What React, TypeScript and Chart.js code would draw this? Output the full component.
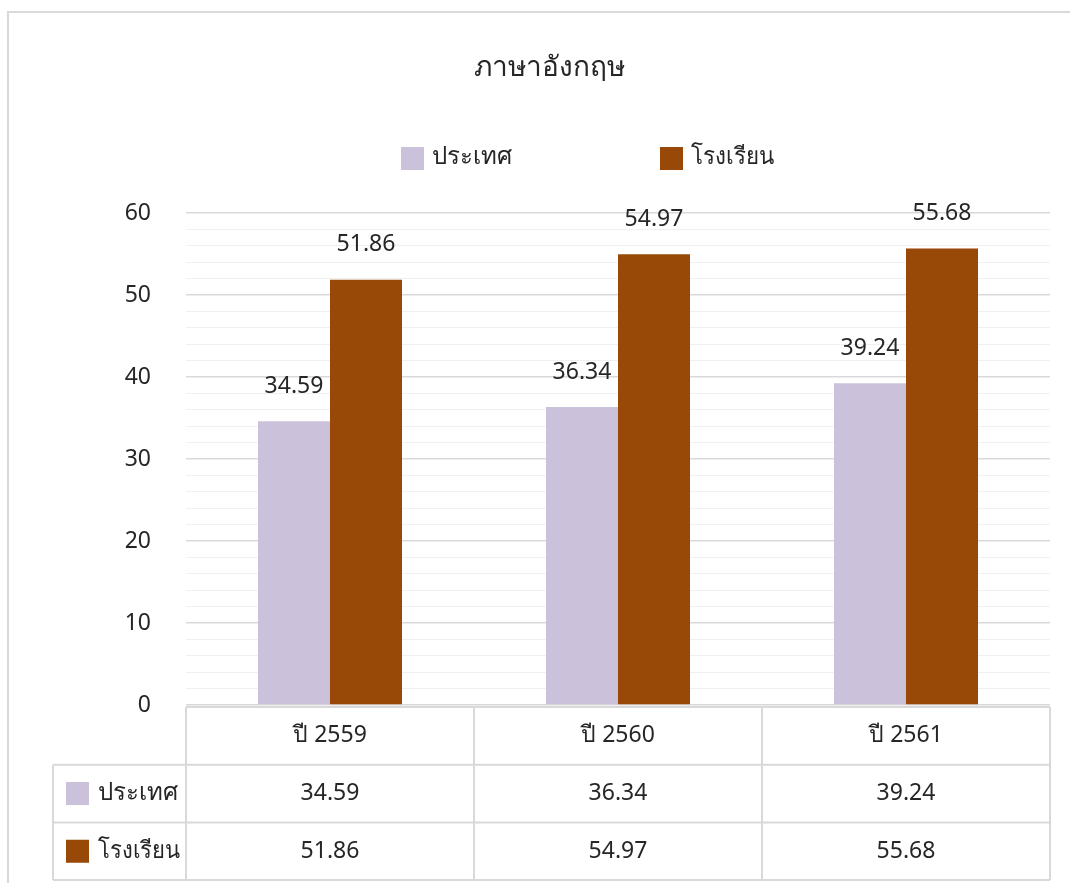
import React, { useEffect, useRef } from "react";
import { Chart, registerables } from "chart.js";

Chart.register(...registerables);

const chartTitle = "ภาษาอังกฤษ";
const categories = ["ปี 2559", "ปี 2560", "ปี 2561"];
const seriesNames = ["ประเทศ", "โรงเรียน"];
const countryValues = [34.59, 36.34, 39.24];
const schoolValues = [51.86, 54.97, 55.68];
const seriesColors = ["#CCC1DA", "#984807"];
const yMin = 0;
const yMax = 60;
const yMinorStep = 2;
const yMajorStep = 10;

const FONT = "'Noto Sans', 'Leelawadee UI', Tahoma, 'DejaVu Sans', sans-serif";
const TEXT = "#262626";
const LINE = "#d9d9d9";

const decorPlugin = {
  id: "decor",
  beforeDraw(chart: any) {
    const { ctx, width, height } = chart;
    ctx.save();
    ctx.fillStyle = "#ffffff";
    ctx.fillRect(0, 0, width, height);
    ctx.strokeStyle = LINE;
    ctx.lineWidth = 2;
    ctx.strokeRect(8, 12, width + 20, height + 20);
    ctx.restore();
  },
  afterDatasetsDraw(chart: any) {
    const { ctx } = chart;
    ctx.save();
    ctx.font = `23px ${FONT}`;
    ctx.fillStyle = TEXT;
    ctx.textAlign = "center";
    ctx.textBaseline = "middle";
    chart.data.datasets.forEach((ds: any, di: number) => {
      const meta = chart.getDatasetMeta(di);
      meta.data.forEach((bar: any, i: number) => {
        ctx.fillText(ds.data[i].toFixed(2), bar.x, bar.y - 35);
      });
    });
    ctx.restore();
  },
  afterDraw(chart: any) {
    const { ctx, chartArea } = chart;
    const xs = chart.scales.x;
    const datasets = chart.data.datasets;
    ctx.save();

    // Title
    ctx.fillStyle = TEXT;
    ctx.textAlign = "center";
    ctx.textBaseline = "middle";
    ctx.font = `28px ${FONT}`;
    ctx.fillText(chartTitle, 549, 68);

    // Legend
    const legendX = [401, 660];
    ctx.font = `24px ${FONT}`;
    ctx.textAlign = "left";
    datasets.forEach((ds: any, i: number) => {
      ctx.fillStyle = ds.backgroundColor;
      ctx.fillRect(legendX[i], 147, 23, 23);
      ctx.fillStyle = TEXT;
      ctx.fillText(ds.label, legendX[i] + 31, 157, 83);
    });

    // Data table
    const left = chartArea.left;
    const right = chartArea.right;
    const catW = (right - left) / categories.length;
    const top = chartArea.bottom + 2;
    const rowH = 57.7;
    const labelLeft = 53;
    ctx.strokeStyle = LINE;
    ctx.lineWidth = 2;
    ctx.beginPath();
    ctx.moveTo(left, top);
    ctx.lineTo(right, top);
    for (let r = 1; r <= datasets.length + 1; r++) {
      const y = top + r * rowH;
      ctx.moveTo(labelLeft, y);
      ctx.lineTo(right, y);
    }
    ctx.moveTo(labelLeft, top + rowH);
    ctx.lineTo(labelLeft, top + rowH * (datasets.length + 1));
    for (let c = 0; c <= categories.length; c++) {
      const x = left + c * catW;
      ctx.moveTo(x, top);
      ctx.lineTo(x, top + rowH * (datasets.length + 1));
    }
    ctx.stroke();

    ctx.font = `23px ${FONT}`;
    ctx.fillStyle = TEXT;
    ctx.textAlign = "center";
    categories.forEach((c, i) => {
      ctx.fillText(c, xs.getPixelForValue(i), top + rowH / 2, 79);
    });
    datasets.forEach((ds: any, di: number) => {
      const cy = top + rowH * (di + 1) + rowH / 2;
      ctx.fillStyle = ds.backgroundColor;
      ctx.fillRect(66, cy - 11.5, 23, 23);
      ctx.fillStyle = TEXT;
      ctx.textAlign = "left";
      ctx.font = `24px ${FONT}`;
      ctx.fillText(ds.label, 98, cy, 82);
      ctx.textAlign = "center";
      ctx.font = `23px ${FONT}`;
      ds.data.forEach((v: number, i: number) => {
        ctx.fillText(v.toFixed(2), xs.getPixelForValue(i), cy);
      });
    });
    ctx.restore();
  },
};

export default function App() {
  const canvasRef = useRef<HTMLCanvasElement | null>(null);

  useEffect(() => {
    if (!canvasRef.current) return;
    const chart = new Chart(canvasRef.current, {
      type: "bar",
      data: {
        labels: categories,
        datasets: [
          {
            label: seriesNames[0],
            data: countryValues,
            backgroundColor: seriesColors[0],
            categoryPercentage: 0.5,
            barPercentage: 1,
          },
          {
            label: seriesNames[1],
            data: schoolValues,
            backgroundColor: seriesColors[1],
            categoryPercentage: 0.5,
            barPercentage: 1,
          },
        ],
      },
      options: {
        animation: false,
        responsive: false,
        maintainAspectRatio: false,
        layout: { padding: { left: 0, right: 20, top: 213, bottom: 178 } },
        plugins: {
          legend: { display: false },
          title: { display: false },
          tooltip: { enabled: false },
        },
        scales: {
          x: { display: false },
          y: {
            min: yMin,
            max: yMax,
            afterFit(scale: any) {
              scale.width = 186;
            },
            border: { display: false },
            grid: {
              drawTicks: false,
              color: (c: any) =>
                c.tick && c.tick.value % yMajorStep === 0 ? LINE : "#f0f0f0",
              lineWidth: (c: any) =>
                c.tick && c.tick.value % yMajorStep === 0 ? 1.5 : 1,
            },
            ticks: {
              stepSize: yMinorStep,
              autoSkip: false,
              padding: 35,
              color: TEXT,
              font: { family: FONT, size: 23 },
              callback: (v: any) => (Number(v) % yMajorStep === 0 ? String(v) : ""),
            },
          },
        },
      },
      plugins: [decorPlugin],
    } as any);
    return () => chart.destroy();
  }, []);

  return (
    <div style={{ position: "fixed", left: 0, top: 0, width: 1070, height: 883, background: "#fff" }}>
      <canvas ref={canvasRef} width={1070} height={883} style={{ display: "block" }} />
    </div>
  );
}
